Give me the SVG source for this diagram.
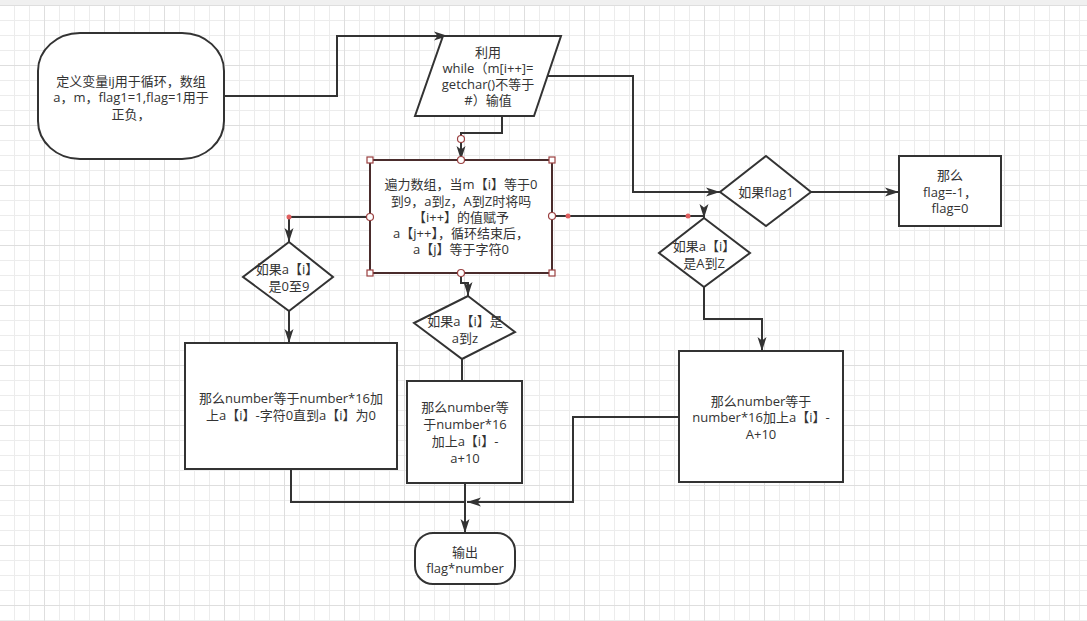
<svg xmlns="http://www.w3.org/2000/svg" width="1087" height="621" viewBox="0 0 1087 621">
<defs>
<pattern id="grid" x="44" y="5" width="60" height="60" patternUnits="userSpaceOnUse">
<path d="M15.5 0V60M30.5 0V60M45.5 0V60M0 15.5H60M0 30.5H60M0 45.5H60" stroke="#ececec" stroke-width="1" fill="none"/>
<path d="M0.5 0V60M0 0.5H60" stroke="#dedede" stroke-width="1" fill="none"/>
</pattern>
<marker id="arr" markerUnits="userSpaceOnUse" markerWidth="14" markerHeight="10" refX="14" refY="5" orient="auto" overflow="visible">
<path d="M0,0.5 L14,5 L0,9.5 L3.5,5 z" fill="#333"/>
</marker>
<style>
.shape{fill:#fff;stroke:#333;stroke-width:2}
.sel{fill:#fff;stroke:#4a2c2c;stroke-width:2}
.t{font-family:"Open Sans","Noto Sans CJK SC",sans-serif;font-size:13px;fill:#333;text-anchor:middle}
.c{fill:none;stroke:#333;stroke-width:2}
.ca{fill:none;stroke:#333;stroke-width:2;marker-end:url(#arr)}
.hs{fill:#fff;stroke:#9a4040;stroke-width:1.2}
.dot{fill:#e06060}
</style>
</defs>
<rect width="1087" height="621" fill="#fff"/>
<rect width="1087" height="621" fill="url(#grid)"/>
<rect width="1087" height="5" fill="#f0f0f0"/>

<g id="connectors">
<path class="ca" d="M224,96 H337 V36 H448"/>
<path class="ca" d="M548,76 H633 V192 H720"/>
<path class="ca" d="M811,192 H899"/>
<path class="ca" d="M502,116 V133 H461 V160"/>
<path class="ca" d="M370,217 H289 V242"/>
<path class="ca" d="M289,311 V343"/>
<path class="ca" d="M461,273 V283 H468 V296"/>
<path class="c" d="M462,359 V381"/>
<path class="ca" d="M552,216 H704 V218"/>
<path class="ca" d="M704,287 V319 H762 V351"/>
<path class="ca" d="M679,417 H573 V502 H467"/>
<path class="c" d="M291,469 V502 H465"/>
<path class="ca" d="M465,483 V533"/>
</g>

<g id="n1">
<rect class="shape" x="38" y="33" width="186" height="126" rx="42" ry="38"/>
<text class="t"><tspan x="131" y="86">定义变量ij用于循环，数组</tspan><tspan x="131" y="102">a，m，flag1=1,flag=1用于</tspan><tspan x="131" y="119">正负，</tspan></text>
</g>

<g id="n2">
<polygon class="shape" points="443,36 561,36 534,116 415,116"/>
<text class="t"><tspan x="488" y="57">利用</tspan><tspan x="488" y="73">while（m[i++]=</tspan><tspan x="488" y="89">getchar()不等于</tspan><tspan x="488" y="105">#）输值</tspan></text>
</g>

<g id="n3">
<rect class="sel" x="370" y="160" width="182" height="113"/>
<text class="t"><tspan x="461" y="189">遍力数组，当m【i】等于0</tspan><tspan x="461" y="206">到9，a到z，A到Z时将吗</tspan><tspan x="461" y="222">【i++】的值赋予</tspan><tspan x="461" y="238">a【j++】，循环结束后，</tspan><tspan x="461" y="254">a【j】等于字符0</tspan></text>
</g>

<g id="handles">
<rect class="hs" x="367" y="157" width="6" height="6"/>
<rect class="hs" x="549" y="157" width="6" height="6"/>
<rect class="hs" x="367" y="270" width="6" height="6"/>
<rect class="hs" x="549" y="270" width="6" height="6"/>
<circle class="hs" cx="461" cy="139" r="3.5"/>
<circle class="hs" cx="461" cy="160" r="3.5"/>
<circle class="hs" cx="461" cy="273" r="3.5"/>
<circle class="hs" cx="370" cy="217" r="3.5"/>
<circle class="hs" cx="552" cy="216" r="3.5"/>
<circle class="dot" cx="289" cy="217" r="2.5"/>
<circle class="dot" cx="568" cy="216" r="2.5"/>
<circle class="dot" cx="688" cy="216" r="2.5"/>
</g>

<g id="n4">
<polygon class="shape" points="766,156 811,192 766,226 720,192"/>
<text class="t"><tspan x="766" y="197">如果flag1</tspan></text>
</g>

<g id="n5">
<rect class="shape" x="899" y="156" width="102" height="70"/>
<text class="t"><tspan x="950" y="180">那么</tspan><tspan x="950" y="197">flag=-1，</tspan><tspan x="950" y="213">flag=0</tspan></text>
</g>

<g id="n6">
<polygon class="shape" points="289,242 333,277 289,311 243,277"/>
<text class="t"><tspan x="287" y="274">如果a【i】</tspan><tspan x="289" y="291">是0至9</tspan></text>
</g>

<g id="n7">
<polygon class="shape" points="468,296 515,332 462,359 414,323"/>
<text class="t"><tspan x="465" y="326">如果a【i】是</tspan><tspan x="465" y="343">a到z</tspan></text>
</g>

<g id="n8">
<polygon class="shape" points="704,218 750,253 704,287 659,253"/>
<text class="t"><tspan x="704" y="251">如果a【i】</tspan><tspan x="704" y="268">是A到Z</tspan></text>
</g>

<g id="n9">
<rect class="shape" x="185" y="343" width="212" height="126"/>
<text class="t"><tspan x="291" y="403">那么number等于number*16加</tspan><tspan x="291" y="420">上a【i】-字符0直到a【i】为0</tspan></text>
</g>

<g id="n10">
<rect class="shape" x="407" y="381" width="115" height="102"/>
<text class="t"><tspan x="465" y="412">那么number等</tspan><tspan x="465" y="429">于number*16</tspan><tspan x="465" y="446">加上a【i】-</tspan><tspan x="465" y="463">a+10</tspan></text>
</g>

<g id="n11">
<rect class="shape" x="679" y="351" width="164" height="131"/>
<text class="t"><tspan x="761" y="406">那么number等于</tspan><tspan x="761" y="422">number*16加上a【i】-</tspan><tspan x="761" y="439">A+10</tspan></text>
</g>

<g id="n12">
<rect class="shape" x="415" y="533" width="100" height="51" rx="18" ry="18"/>
<text class="t"><tspan x="465" y="557">输出</tspan><tspan x="465" y="573">flag*number</tspan></text>
</g>
</svg>
